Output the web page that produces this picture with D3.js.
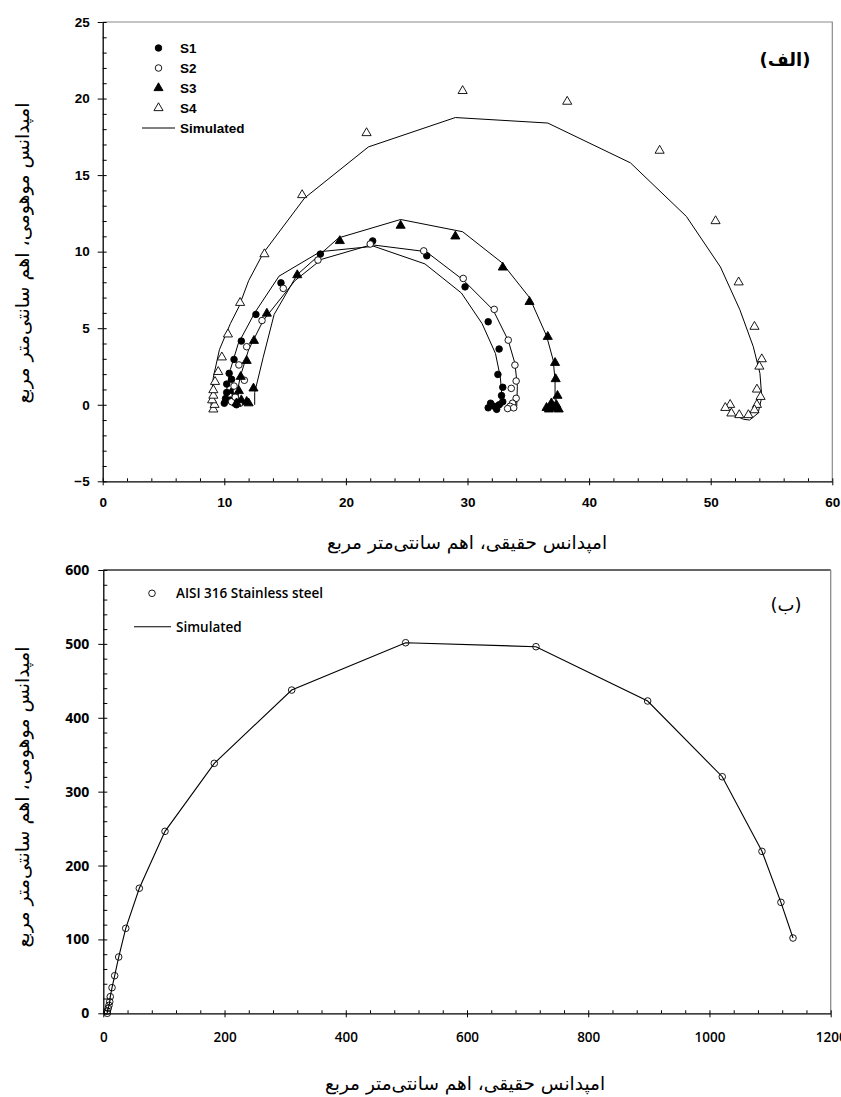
<!DOCTYPE html>
<html>
<head>
<meta charset="utf-8">
<script src="https://cdn.jsdelivr.net/npm/d3@7"></script>
<style>
  body { margin: 0; background: #fff; }
  svg { display: block; }
  .fa { font-family: "DejaVu Sans", sans-serif; direction: rtl; unicode-bidi: embed; }
</style>
</head>
<body>
<svg id="chart" width="841" height="1097"></svg>
<script>
// ---- panel (الف) data, [Z' , -Z''] in ohm.cm2 ----
const s1Points = [[10.0,0.1],[10.1,0.4],[10.5,0.3],[10.9,0.6],[11.2,0.2],[10.7,0.9],[11.0,0.0],[10.2,0.8],[10.2,1.35],[10.6,1.66],[10.4,2.05],[10.8,2.96],[11.4,4.16],[12.6,5.9],[14.66,7.96],[17.9,9.84],[22.2,10.7],[26.65,9.73],[29.8,7.7],[31.7,5.42],[32.6,3.64],[32.5,1.98],[32.9,1.14],[32.8,0.6],[32.9,0.2],[32.6,0.0],[32.2,-0.1],[31.9,0.1],[31.7,-0.2],[32.4,-0.3]];
const s2Points = [[10.6,0.2],[10.9,0.5],[11.3,0.1],[11.0,0.9],[10.8,1.22],[11.65,1.6],[11.2,2.6],[11.84,3.79],[13.1,5.5],[14.85,7.6],[17.7,9.45],[22.0,10.5],[26.4,10.05],[29.65,8.25],[32.2,6.23],[33.35,4.22],[33.9,2.59],[34.0,1.55],[33.6,1.07],[34.0,0.42],[33.7,0.1],[33.5,-0.1],[33.3,-0.25],[33.8,-0.2]];
const s3Points = [[11.0,0.1],[11.4,0.3],[11.84,0.2],[12.0,0.1],[11.2,0.9],[12.4,1.07],[11.35,1.83],[11.84,2.87],[12.44,4.18],[13.5,5.96],[16.0,8.47],[19.5,10.7],[24.5,11.7],[29.0,11.0],[32.9,8.97],[35.1,6.72],[36.6,4.44],[37.2,2.74],[37.25,1.68],[37.4,0.59],[37.3,0.0],[37.0,-0.2],[36.7,-0.3],[36.9,0.1],[37.5,-0.3],[36.5,-0.2]];
const s4Points = [[9.1,-0.3],[9.2,0.0],[9.0,0.3],[9.1,0.6],[9.1,0.96],[9.24,1.5],[9.5,2.15],[9.8,3.1],[10.3,4.6],[11.3,6.66],[13.3,9.84],[16.4,13.7],[21.7,17.75],[29.6,20.5],[38.2,19.8],[45.8,16.6],[50.4,12.0],[52.3,8.0],[53.6,5.1],[54.2,2.98],[54.0,2.5],[53.8,1.0],[54.1,0.52],[53.8,0.0],[53.6,-0.35],[53.1,-0.67],[52.35,-0.67],[51.7,-0.56],[51.6,0.0],[51.2,-0.2]];

const s1Sim = [[10.0,0.0],[10.2,1.0],[10.5,2.3],[11.15,4.0],[12.5,6.0],[14.5,8.4],[17.9,10.0],[22.3,10.35],[26.5,9.2],[29.5,7.3],[31.2,5.3],[32.3,3.35],[32.7,1.8],[32.9,-0.1]];
const s2Sim = [[11.0,0.0],[11.0,0.5],[11.3,1.8],[12.0,3.6],[13.2,5.5],[15.8,8.1],[18.0,9.5],[22.1,10.45],[26.6,10.0],[29.65,8.15],[32.1,6.2],[33.35,4.2],[33.9,2.7],[34.1,1.2],[34.05,-0.1]];
const s3Sim = [[12.5,0.0],[12.5,0.8],[13.2,3.1],[14.1,5.9],[16.0,8.5],[19.4,10.9],[24.5,12.1],[29.6,11.3],[32.8,9.3],[35.1,7.0],[36.5,4.5],[37.05,2.9],[37.2,1.6],[37.2,0.3]];
const s4Sim = [[8.9,0.0],[9.1,1.8],[9.6,3.6],[10.5,5.3],[11.2,6.4],[12.0,8.1],[13.2,9.9],[16.6,13.5],[21.85,16.84],[29.0,18.76],[36.6,18.4],[43.4,15.8],[48.0,12.3],[50.8,9.0],[52.4,6.2],[53.5,3.8],[54.05,2.05],[54.2,0.5],[53.9,-0.55],[53.2,-1.0],[52.7,-0.95],[52.3,-0.8]];

const topXTicks = [0, 10, 20, 30, 40, 50, 60];
const topYTicks = [-5, 0, 5, 10, 15, 20, 25];
const topLegend = ["S1", "S2", "S3", "S4", "Simulated"];

// ---- panel (ب) data ----
const aisiPoints = [[6.6,0],[6.6,3],[8.2,6.8],[9.4,10.8],[10.6,15.7],[11.5,22.5],[14.4,34.7],[18.8,50.9],[25.4,76.2],[37,115],[59.4,169.2],[101.8,246.3],[183.1,338.3],[310.8,437.5],[498.8,501.6],[713.8,496.2],[898.0,422.7],[1021.1,320.2],[1086.6,219.2],[1117.9,150.2],[1137.8,101.9]];
const aisiSim = [[6.6,0],[6.6,3],[8.2,6.8],[9.4,10.8],[10.6,15.7],[11.5,22.5],[14.4,34.7],[18.8,50.9],[25.4,76.2],[37,115],[59.4,169.2],[101.8,246.3],[183.1,338.3],[310.8,437.5],[498.8,501.6],[713.8,496.2],[898.0,422.7],[1021.1,320.2],[1086.6,219.2],[1117.9,150.2],[1137.8,101.9]];

const botXTicks = [0, 200, 400, 600, 800, 1000, 1200];
const botYTicks = [0, 100, 200, 300, 400, 500, 600];
const botLegend = ["AISI 316 Stainless steel", "Simulated"];

const xTitle = "امپدانس حقیقی، اهم سانتی‌متر مربع";
const yTitle = "امپدانس موهومی، اهم سانتی‌متر مربع";

const svg = d3.select("#chart");

// ===== top panel =====
const xTop = d3.scaleLinear().domain([0, 60]).range([102.7, 832.3]);
const yTop = d3.scaleLinear().domain([-5, 25]).range([481.3, 22]);
const gTop = svg.append("g");
const boldSans = "'Liberation Sans', Arial, sans-serif";

// frame (top & right in grey)
gTop.append("path")
  .attr("d", `M${xTop(0)},${yTop(25)}H${xTop(60)}V${yTop(-5)}`)
  .attr("fill", "none").attr("stroke", "#8a8a8a").attr("stroke-width", 1.2);

// minor ticks, inward
gTop.append("g").attr("transform", `translate(0,${yTop(-5)})`)
  .call(d3.axisBottom(xTop).tickValues(d3.range(0, 61, 2)).tickSize(-3).tickSizeOuter(0).tickFormat(""))
  .call(g => g.select(".domain").remove());
gTop.append("g").attr("transform", `translate(${xTop(0)},0)`)
  .call(d3.axisLeft(yTop).tickValues(d3.range(-5, 26, 1)).tickSize(-4).tickSizeOuter(0).tickFormat(""))
  .call(g => g.select(".domain").remove());

const xAxTop = gTop.append("g").attr("transform", `translate(0,${yTop(-5)})`)
  .call(d3.axisBottom(xTop).tickValues(topXTicks).tickSize(4).tickSizeOuter(0).tickPadding(12));
const yAxTop = gTop.append("g").attr("transform", `translate(${xTop(0)},0)`)
  .call(d3.axisLeft(yTop).tickValues(topYTicks).tickSize(5).tickSizeOuter(0).tickPadding(8));
[xAxTop, yAxTop].forEach(a => {
  a.selectAll("text").attr("font-family", boldSans).attr("font-weight", "bold").attr("font-size", 13.5).attr("fill", "#000");
  a.select(".domain").attr("stroke-width", 1.3);
});

const lineTop = d3.line().x(d => xTop(d[0])).y(d => yTop(d[1]));
[s1Sim, s2Sim, s3Sim, s4Sim].forEach(s => {
  gTop.append("path").attr("d", lineTop(s)).attr("fill", "none").attr("stroke", "#000").attr("stroke-width", 1);
});

const circ = d3.symbol().type(d3.symbolCircle).size(34);
const tri = d3.symbol().type(d3.symbolTriangle).size(36);
const seriesTop = [
  { pts: s1Points, sym: circ, fill: "#000" },
  { pts: s2Points, sym: circ, fill: "#fff" },
  { pts: s3Points, sym: tri, fill: "#000" },
  { pts: s4Points, sym: tri, fill: "#fff" }
];
seriesTop.forEach(s => {
  gTop.append("g").selectAll("path").data(s.pts).enter().append("path")
    .attr("d", s.sym())
    .attr("transform", d => `translate(${xTop(d[0])},${yTop(d[1])})`)
    .attr("fill", s.fill).attr("stroke", "#000").attr("stroke-width", 0.9);
});

// legend
const legTop = gTop.append("g");
topLegend.forEach((name, i) => {
  const y = 48 + i * 20;
  if (i < 4) {
    legTop.append("path").attr("d", seriesTop[i].sym())
      .attr("transform", `translate(158.5,${y})`)
      .attr("fill", seriesTop[i].fill).attr("stroke", "#000").attr("stroke-width", 0.9);
  } else {
    legTop.append("line").attr("x1", 142).attr("x2", 175).attr("y1", y).attr("y2", y)
      .attr("stroke", "#000").attr("stroke-width", 1);
  }
  legTop.append("text").attr("x", 180).attr("y", y).attr("dy", "0.36em")
    .attr("font-family", boldSans).attr("font-weight", "bold").attr("font-size", 13.5).text(name);
});

gTop.append("text").attr("class", "fa").attr("direction", "rtl").attr("x", 785).attr("y", 66)
  .attr("text-anchor", "middle").attr("font-weight", "bold").attr("font-size", 18).text("(الف)");
gTop.append("text").attr("class", "fa").attr("direction", "rtl").attr("x", 467).attr("y", 549)
  .attr("text-anchor", "middle").attr("font-size", 18.5).text(xTitle);
gTop.append("text").attr("class", "fa").attr("direction", "rtl").attr("transform", "translate(29,253) rotate(-90)")
  .attr("text-anchor", "middle").attr("font-size", 19).text(yTitle);

// ===== bottom panel =====
const xBot = d3.scaleLinear().domain([0, 1200]).range([103.3, 830.7]);
const yBot = d3.scaleLinear().domain([0, 600]).range([1013.3, 570]);
const gBot = svg.append("g");
const semiSans = "'Open Sans', 'DejaVu Sans', sans-serif";

gBot.append("path")
  .attr("d", `M${xBot(0)},${yBot(600)}H${xBot(1200)}`)
  .attr("stroke", "#333").attr("stroke-width", 1.3);
gBot.append("path")
  .attr("d", `M${xBot(1200)},${yBot(600)}V${yBot(0)}`)
  .attr("stroke", "#8a8a8a").attr("stroke-width", 1.3);

gBot.append("g").attr("transform", `translate(0,${yBot(0)})`)
  .call(d3.axisBottom(xBot).tickValues(d3.range(0, 1201, 40)).tickSize(-3).tickSizeOuter(0).tickFormat(""))
  .call(g => g.select(".domain").remove());
gBot.append("g").attr("transform", `translate(${xBot(0)},0)`)
  .call(d3.axisLeft(yBot).tickValues(d3.range(0, 601, 20)).tickSize(-4).tickSizeOuter(0).tickFormat(""))
  .call(g => g.select(".domain").remove());

const xAxBot = gBot.append("g").attr("transform", `translate(0,${yBot(0)})`)
  .call(d3.axisBottom(xBot).tickValues(botXTicks).tickFormat(d3.format("d")).tickSize(4).tickSizeOuter(0).tickPadding(15));
const yAxBot = gBot.append("g").attr("transform", `translate(${xBot(0)},0)`)
  .call(d3.axisLeft(yBot).tickValues(botYTicks).tickFormat(d3.format("d")).tickSize(5).tickSizeOuter(0).tickPadding(9));
[xAxBot, yAxBot].forEach(a => {
  a.selectAll("text").attr("font-family", semiSans).attr("font-weight", 700).attr("font-size", 14).attr("fill", "#000");
  a.select(".domain").attr("stroke-width", 1.3);
});
xAxBot.selectAll("text").attr("font-weight", 600).attr("font-size", 13.5);

const lineBot = d3.line().x(d => xBot(d[0])).y(d => yBot(d[1]));
gBot.append("path").attr("d", lineBot(aisiSim)).attr("fill", "none").attr("stroke", "#000").attr("stroke-width", 1.1);
gBot.append("g").selectAll("circle").data(aisiPoints).enter().append("circle")
  .attr("cx", d => xBot(d[0])).attr("cy", d => yBot(d[1])).attr("r", 3.3)
  .attr("fill", "none").attr("stroke", "#000").attr("stroke-width", 0.9);

gBot.append("circle").attr("cx", 152).attr("cy", 593.3).attr("r", 3.3)
  .attr("fill", "none").attr("stroke", "#000").attr("stroke-width", 0.9);
gBot.append("line").attr("x1", 134).attr("x2", 171).attr("y1", 626.7).attr("y2", 626.7)
  .attr("stroke", "#000").attr("stroke-width", 1.1);
botLegend.forEach((name, i) => {
  gBot.append("text").attr("x", 176).attr("y", i === 0 ? 593.3 : 626.7).attr("dy", "0.36em")
    .attr("font-family", semiSans).attr("font-weight", 600).attr("font-size", 13.5).text(name);
});

gBot.append("text").attr("class", "fa").attr("direction", "rtl").attr("x", 786).attr("y", 611)
  .attr("text-anchor", "middle").attr("font-size", 18).text("(ب)");
gBot.append("text").attr("class", "fa").attr("direction", "rtl").attr("x", 465).attr("y", 1090)
  .attr("text-anchor", "middle").attr("font-size", 18.5).text(xTitle);
gBot.append("text").attr("class", "fa").attr("direction", "rtl").attr("transform", "translate(29,797) rotate(-90)")
  .attr("text-anchor", "middle").attr("font-size", 19).text(yTitle);
</script>
</body>
</html>
